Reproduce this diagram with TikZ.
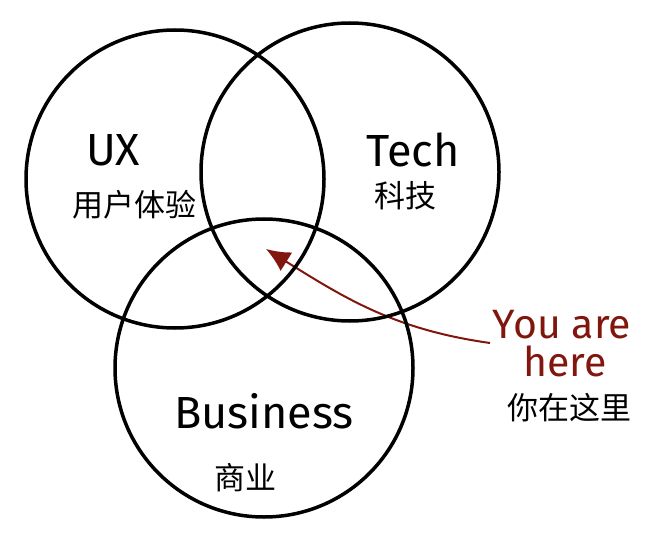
\documentclass[tikz,border=0pt]{standalone}
\usepackage{fontspec}
\setmainfont{Fira Sans}
\newfontfamily\cjk{Noto Sans CJK SC}
\usetikzlibrary{arrows.meta}
\pgfdeclarelayer{edgelayer}
\pgfdeclarelayer{nodelayer}
\pgfsetlayers{edgelayer,nodelayer,main}
\definecolor{herered}{RGB}{128,22,14}
\tikzstyle{none}=[inner sep=0pt]
\tikzstyle{set_circle}=[circle,draw=black,line width=3.5pt,minimum size=298pt,inner sep=0pt]
\tikzstyle{hand_label}=[inner sep=0pt,font=\fontsize{45}{45}\selectfont]
\tikzstyle{red_label}=[inner sep=0pt,text=herered,font=\fontsize{41}{41}\selectfont]
\tikzstyle{cjk_label}=[inner sep=0pt,font=\cjk\fontsize{31}{31}\selectfont]
\tikzstyle{pointer}=[-{Latex[length=24pt,width=22pt]},draw=herered,line width=2pt]

\begin{document}
\begin{tikzpicture}[x=1pt,y=1pt]
	\useasboundingbox (0,0) rectangle (653,-540);
	\begin{pgfonlayer}{nodelayer}
		\node [style={set_circle}] (0) at (175, -179) {};
		\node [style={set_circle}] (1) at (350, -172) {};
		\node [style={set_circle}] (2) at (264, -368) {};
		\node [style={hand_label}] (3) at (113, -150) {UX};
		\node [style={cjk_label}] (4) at (134, -205) {用户体验};
		\node [style={hand_label}] (5) at (413, -150) {Tech};
		\node [style={cjk_label}] (6) at (405, -196) {科技};
		\node [style={hand_label}] (7) at (264, -411) {Business};
		\node [style={cjk_label}] (8) at (245, -478) {商业};
		\node [style={red_label}] (9) at (562, -325) {You are};
		\node [style={red_label}] (10) at (565, -361) {here};
		\node [style={cjk_label}] (11) at (569, -408) {你在这里};
		\coordinate (12) at (490, -343);
		\coordinate (13) at (266, -249);
	\end{pgfonlayer}
	\begin{pgfonlayer}{edgelayer}
		\draw [style=pointer] (12) to [out=172, in=-32] (13);
	\end{pgfonlayer}
\end{tikzpicture}
\end{document}
